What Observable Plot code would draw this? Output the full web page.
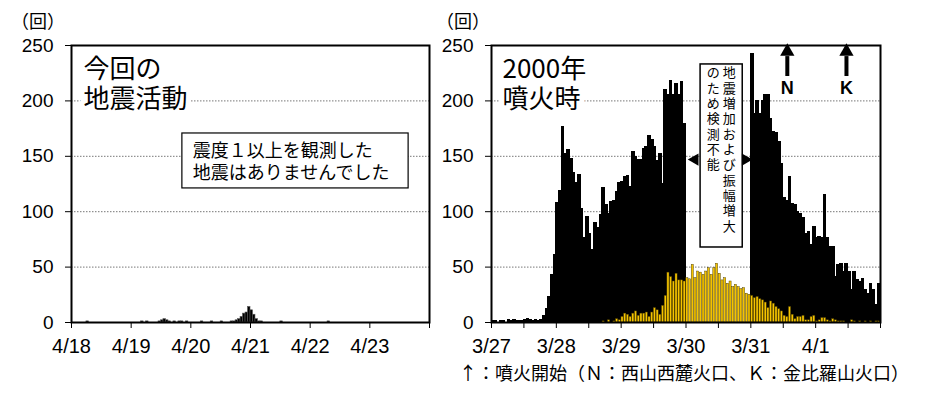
<!DOCTYPE html>
<html><head><meta charset="utf-8">
<script src="https://cdn.jsdelivr.net/npm/d3@7"></script>
<script src="https://cdn.jsdelivr.net/npm/@observablehq/plot@0.6"></script>
<style>
body{margin:0;background:#fff;}
#wrap{position:relative;width:944px;height:394px;overflow:hidden;background:#fff;font-family:"Liberation Sans","Noto Sans CJK JP",sans-serif;}
.panel{position:absolute;top:0;z-index:1;}
.unit{position:absolute;top:11px;z-index:5;font-size:18px;line-height:18px;font-family:"Noto Sans CJK JP",sans-serif;color:#000;}
.caption{position:absolute;top:363px;left:459px;z-index:5;font-size:18px;line-height:18px;font-family:"Noto Sans CJK JP",sans-serif;color:#000;white-space:nowrap;}
</style>
</head><body>
<div id="wrap">
  <div class="panel" id="left" style="left:0"></div>
  <div class="panel" id="right" style="left:440px"></div>
  <div class="unit" style="left:11px">（回）</div>
  <div class="unit" style="left:436px">（回）</div>
  <div class="caption" id="caption"></div>
</div>
<script>
// ---------- data ----------
const yTicks = [0, 50, 100, 150, 200, 250];
const gridTicks = [50, 100, 150, 200];

// left panel: hourly counts, 4/18 - 4/23
const leftDayLabels = ["4/18", "4/19", "4/20", "4/21", "4/22", "4/23", ""];
const l0418 = [0,0,0,0,0,0,1,0,0,0,0,0,0,0,0,0,0,0,0,0,0,0,0,0];
const l0419 = [0,0,0,0,1,0,1,0,0,0,0,1,2,3,2,1,0,1,0,1,1,0,1,0];
const l0420 = [0,0,0,0,1,0,0,0,1,0,0,0,1,0,0,0,1,1,2,3,5,8,9,14];
const l0421 = [11,7,3,1,1,0,0,0,0,0,0,0,1,0,0,0,0,0,0,0,0,0,0,0];
const l0422 = [0,0,0,0,0,0,0,1,0,0,0,0,0,0,0,0,0,0,0,0,0,0,0,0];
const l0423 = [0,0,0,0,0,0,0,0,0,0,0,0,0,0,0,0,0,0,0,0,0,0,0,0];
const leftTitle = "今回の\n地震活動";
const leftNote = "震度１以上を観測した\n地震はありませんでした";

// right panel: hourly counts, 3/27 - 4/1 (2000 eruption)
const rightDayLabels = ["3/27", "3/28", "3/29", "3/30", "3/31", "4/1", ""];
const b0327 = [1,1,0,1,1,0,2,1,2,1,1,1,2,3,2,1,2,1,2,6,12,23,43,61];
const b0328 = [108,119,176,152,156,148,135,126,133,102,76,95,80,65,90,85,97,121,106,98,109,110,118,126];
const b0329 = [127,131,132,122,154,149,147,147,157,158,168,165,158,146,152,125,210,205,218,205,215,205,217,179];
const b0331 = [242,188,200,188,200,205,205,184,172,171,163,143,112,110,131,107,106,100,98,94,80,82,70,86];
const b0401 = [76,77,76,115,76,68,68,41,52,53,46,53,46,29,46,38,37,39,29,26,35,29,16,35];
const blackSeries = [["3/27", b0327], ["3/28", b0328], ["3/29", b0329], ["3/31", b0331], ["4/1", b0401]];

const y0328 = [0,0,0,0,0,0,0,0,0,0,0,0,0,0,0,0,0,1,0,2,0,1,3,2];
const y0329 = [5,8,7,5,8,10,6,8,8,9,5,9,13,11,7,15,24,45,41,37,44,38,38,37];
const y0330 = [40,39,52,40,46,45,43,46,49,43,49,53,44,38,40,35,37,32,34,32,30,31,26,25];
const y0331 = [24,22,23,21,20,18,13,19,17,14,12,10,6,5,14,7,3,5,5,6,2,2,5,6];
const y0401 = [1,2,4,4,2,1,3,2,1,1,1,0,0,2,1,0,1,0,1,0,1,0,1,1];
const yellowSeries = [["3/28", y0328], ["3/29", y0329], ["3/30", y0330], ["3/31", y0331], ["4/1", y0401]];

const rightTitle = "2000年\n噴火時";
const gapNoteRight = "地震増加および振幅増大";
const gapNoteLeft = "のため検測不能";
const eruptions = [{label: "N", hour: 109.5}, {label: "K", hour: 131.4}];
const captionText = "↑：噴火開始（Ｎ：西山西麓火口、Ｋ：金比羅山火口）";

// ---------- helpers ----------
const fontFamily = `"Liberation Sans","Noto Sans CJK JP",sans-serif`;
const jpFont = `"Noto Sans CJK JP",sans-serif`;
function toBars(series, labels) {
  const out = [];
  for (const [day, arr] of series) {
    const off = labels.indexOf(day) * 24;
    arr.forEach((v, h) => { if (v > 0) out.push({x1: off + h, x2: off + h + 1, v}); });
  }
  return out;
}
const vertical = s => Array.from(s).join("\n");

const leftBars = toBars([["4/18", l0418], ["4/19", l0419], ["4/20", l0420], ["4/21", l0421], ["4/22", l0422], ["4/23", l0423]], leftDayLabels);
const blackBars = toBars(blackSeries, rightDayLabels);
const yellowBars = toBars(yellowSeries, rightDayLabels);

const common = {
  height: 394, marginTop: 45, marginBottom: 72,
  y: {domain: [0, 250]},
  style: {fontFamily, background: "white", color: "black", overflow: "visible"}
};

// ---------- left ----------
const left = Plot.plot({
  ...common,
  width: 440, marginLeft: 71, marginRight: 11,
  x: {domain: [0, 144]},
  marks: [
    Plot.gridY(gridTicks, {stroke: "#777", strokeOpacity: 1, strokeDasharray: "1.5,1.5"}),
    Plot.rectY(leftBars, {x1: "x1", x2: "x2", y: "v", fill: "black", stroke: "#555", strokeWidth: 0.6}),
    Plot.text([leftTitle], {text: d => d, frameAnchor: "top-left", dx: 12, dy: 11, textAnchor: "start", lineAnchor: "top",
      fontSize: 26, lineHeight: 1.15, fontFamily: jpFont, fill: "black", stroke: "white", strokeWidth: 10, paintOrder: "stroke"}),
    Plot.rect([leftNote], {x1: 44.6, x2: 135.6, y1: 121, y2: 170.6, fill: "white", stroke: "black", strokeWidth: 1.2}),
    Plot.text([leftNote], {text: d => d, x: 48.8, y: 146, textAnchor: "start", lineAnchor: "middle",
      fontSize: 18, lineHeight: 1.22, fontFamily: jpFont, fill: "black"}),
    Plot.axisY({ticks: yTicks, tickSize: 6, tickPadding: 12, fontSize: 19, label: null}),
    Plot.axisX({ticks: d3.range(0, 145, 24), tickFormat: d => leftDayLabels[d / 24], tickSize: 6, tickPadding: 10, fontSize: 20, label: null}),
    Plot.frame({stroke: "black", strokeWidth: 2})
  ]
});
document.getElementById("left").append(left);

// ---------- right ----------
const right = Plot.plot({
  ...common,
  width: 504, marginLeft: 51, marginRight: 64,
  x: {domain: [0, 144]},
  marks: [
    Plot.gridY(gridTicks, {stroke: "#777", strokeOpacity: 1, strokeDasharray: "1.5,1.5"}),
    Plot.rectY(blackBars, {x1: "x1", x2: "x2", y: "v", fill: "black", stroke: "black", strokeWidth: 1, shapeRendering: "crispEdges"}),
    Plot.rectY(yellowBars, {x1: "x1", x2: "x2", y: "v", fill: "#f5c400", stroke: "#4a3c00", strokeWidth: 0.45, insetLeft: 0.3, insetRight: 0.3}),
    Plot.text([rightTitle], {text: d => d, frameAnchor: "top-left", dx: 11, dy: 11, textAnchor: "start", lineAnchor: "top",
      fontSize: 26, lineHeight: 1.15, fontFamily: jpFont, fill: "black", stroke: "white", strokeWidth: 10, paintOrder: "stroke"}),
    Plot.rect([gapNoteRight], {x1: 77.4, x2: 93.0, y1: 67.7, y2: 232.9, fill: "white", stroke: "black", strokeWidth: 1.5}),
    Plot.text([gapNoteRight], {text: vertical, x: 88.0, y: 231, textAnchor: "middle", lineAnchor: "top",
      fontSize: 13, lineHeight: 1.18, fontFamily: jpFont, fill: "black"}),
    Plot.text([gapNoteLeft], {text: vertical, x: 82.1, y: 231, textAnchor: "middle", lineAnchor: "top",
      fontSize: 13, lineHeight: 1.18, fontFamily: jpFont, fill: "black"}),
    Plot.dot([{h: 75.3, r: -90}, {h: 94.0, r: 90}], {x: "h", y: 147, rotate: "r", symbol: "triangle", r: 4.6, fill: "black", stroke: null}),
    Plot.ruleX(eruptions, {x: "hour", y1: 222, y2: 240, stroke: "black", strokeWidth: 4}),
    Plot.dot(eruptions, {x: "hour", y: 244.5, symbol: "triangle", r: 5.3, fill: "black", stroke: null}),
    Plot.text(eruptions, {x: "hour", y: 211, text: "label", fontSize: 18, fontWeight: "bold", fill: "black"}),
    Plot.axisY({ticks: yTicks, tickSize: 6, tickPadding: 12, fontSize: 19, label: null}),
    Plot.axisX({ticks: d3.range(0, 145, 12), tickFormat: d => d % 24 === 0 ? rightDayLabels[d / 24] : "", tickSize: 6, tickPadding: 10, fontSize: 20, label: null}),
    Plot.frame({stroke: "black", strokeWidth: 2})
  ]
});
document.getElementById("right").append(right);

document.getElementById("caption").textContent = captionText;
</script>
</body></html>
